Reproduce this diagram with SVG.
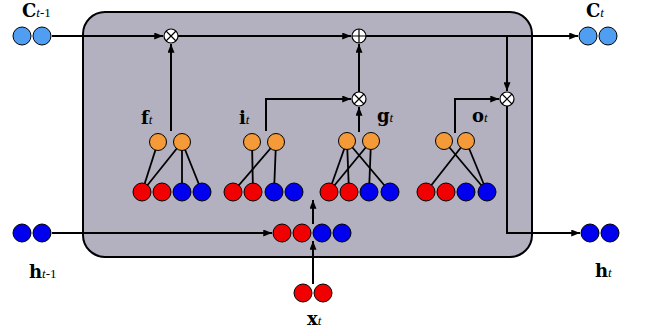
<svg xmlns="http://www.w3.org/2000/svg" width="645" height="335" viewBox="0 0 645 335">
<defs>
<marker id="ah" viewBox="0 0 10 8" refX="10" refY="4" markerWidth="9" markerHeight="7" markerUnits="userSpaceOnUse" orient="auto"><path d="M0,0 L10,4 L0,8 z" fill="#000"/></marker>
</defs>
<style>
.cn{fill:none;stroke:#000;stroke-width:2}
.ar{marker-end:url(#ah)}
.n{stroke:#000;stroke-width:1}
.red{fill:#f00000}
.blu{fill:#0000ee}
.cyan{fill:#4f9ef2}
.org{fill:#f59a38}
.op{fill:#fff;stroke:#000;stroke-width:1.2}
.opx{stroke:#000;stroke-width:1.2}
.m{font-family:"DejaVu Serif",serif;font-weight:bold;font-size:18px;fill:#000}
.s{font-family:"Liberation Serif",serif;font-style:italic;font-size:13px;fill:#000}
.u{font-family:"Liberation Serif",serif;font-size:13px;fill:#000}
</style>
<rect x="83" y="12" width="449" height="245" rx="22" fill="#b3b1c0" stroke="#000" stroke-width="2"/>
<g id="connectors">
<line class="cn ar" x1="52" y1="36" x2="163" y2="36"/>
<line class="cn ar" x1="178" y1="36" x2="351" y2="36"/>
<line class="cn ar" x1="366" y1="36" x2="578" y2="36"/>
<polyline class="cn ar" points="507,36 507,91"/>
<polyline class="cn ar" points="507,106 507,233 580,233"/>
<line class="cn ar" x1="52" y1="233" x2="272" y2="233"/>
<line class="cn ar" x1="313" y1="284" x2="313" y2="241"/>
<line class="cn ar" x1="313" y1="224" x2="313" y2="200"/>
<line class="cn ar" x1="171" y1="131" x2="171" y2="44"/>
<polyline class="cn ar" points="266,131 266,99 351,99"/>
<line class="cn ar" x1="359" y1="132" x2="359" y2="107"/>
<line class="cn ar" x1="359" y1="92" x2="359" y2="44"/>
<polyline class="cn ar" points="455,133 455,99 499,99"/>
<g stroke="#000" stroke-width="1.8">
<line x1="158" y1="142" x2="142" y2="192"/>
<line x1="182" y1="142" x2="142" y2="192"/>
<line x1="182" y1="142" x2="182" y2="192"/>
<line x1="182" y1="142" x2="202" y2="192"/>
<line x1="252" y1="142" x2="253" y2="192"/>
<line x1="276" y1="142" x2="233" y2="192"/>
<line x1="276" y1="142" x2="274" y2="192"/>
<line x1="347" y1="141" x2="329" y2="192"/>
<line x1="347" y1="141" x2="349" y2="192"/>
<line x1="347" y1="141" x2="390" y2="192"/>
<line x1="371" y1="141" x2="329" y2="192"/>
<line x1="371" y1="141" x2="369" y2="192"/>
<line x1="444" y1="141" x2="487" y2="192"/>
<line x1="466" y1="141" x2="426" y2="192"/>
<line x1="466" y1="141" x2="487" y2="192"/>
</g>
</g>
<g id="c_prev"><circle class="n cyan" cx="22" cy="36" r="9"/><circle class="n cyan" cx="42" cy="36" r="9"/></g>
<g id="c_next"><circle class="n cyan" cx="588" cy="36" r="9"/><circle class="n cyan" cx="608" cy="36" r="9"/></g>
<g id="h_prev"><circle class="n blu" cx="22" cy="233" r="9"/><circle class="n blu" cx="42" cy="233" r="9"/></g>
<g id="h_next"><circle class="n blu" cx="590" cy="233" r="9"/><circle class="n blu" cx="610" cy="233" r="9"/></g>
<g id="x_in"><circle class="n red" cx="303" cy="293" r="9"/><circle class="n red" cx="323" cy="293" r="9"/></g>
<g id="concat"><circle class="n red" cx="282" cy="233" r="9"/><circle class="n red" cx="302" cy="233" r="9"/><circle class="n blu" cx="322" cy="233" r="9"/><circle class="n blu" cx="342" cy="233" r="9"/></g>
<g id="gate_f"><circle class="n red" cx="142" cy="192" r="9"/><circle class="n red" cx="162" cy="192" r="9"/><circle class="n blu" cx="182" cy="192" r="9"/><circle class="n blu" cx="202" cy="192" r="9"/><circle class="n org" cx="158" cy="142" r="8.5"/><circle class="n org" cx="182" cy="142" r="8.5"/></g>
<g id="gate_i"><circle class="n red" cx="233" cy="192" r="9"/><circle class="n red" cx="253" cy="192" r="9"/><circle class="n blu" cx="274" cy="192" r="9"/><circle class="n blu" cx="294" cy="192" r="9"/><circle class="n org" cx="252" cy="142" r="8.5"/><circle class="n org" cx="276" cy="142" r="8.5"/></g>
<g id="gate_g"><circle class="n red" cx="329" cy="192" r="9"/><circle class="n red" cx="349" cy="192" r="9"/><circle class="n blu" cx="369" cy="192" r="9"/><circle class="n blu" cx="390" cy="192" r="9"/><circle class="n org" cx="347" cy="141" r="8.5"/><circle class="n org" cx="371" cy="141" r="8.5"/></g>
<g id="gate_o"><circle class="n red" cx="426" cy="192" r="9"/><circle class="n red" cx="446" cy="192" r="9"/><circle class="n blu" cx="466" cy="192" r="9"/><circle class="n blu" cx="487" cy="192" r="9"/><circle class="n org" cx="444" cy="141" r="8.5"/><circle class="n org" cx="466" cy="141" r="8.5"/></g>
<g id="mul_f"><circle class="op" cx="171" cy="36" r="7"/><path class="opx" d="M166,31 L176,41 M176,31 L166,41"/></g>
<g id="add_c"><circle class="op" cx="359" cy="36" r="7"/><path class="opx" d="M352,36 L366,36 M359,29 L359,43"/></g>
<g id="mul_i"><circle class="op" cx="359" cy="99" r="7"/><path class="opx" d="M354,94 L364,104 M364,94 L354,104"/></g>
<g id="mul_o"><circle class="op" cx="507" cy="99" r="7"/><path class="opx" d="M502,94 L512,104 M512,94 L502,104"/></g>
<g id="labels">
<text x="22" y="17"><tspan class="m" font-size="16">C</tspan><tspan class="s">t</tspan><tspan class="u">-1</tspan></text>
<text x="586" y="17"><tspan class="m" font-size="16">C</tspan><tspan class="s">t</tspan></text>
<text x="29" y="278"><tspan class="m" font-size="20">h</tspan><tspan class="s">t</tspan><tspan class="u">-1</tspan></text>
<text x="595" y="277"><tspan class="m" font-size="20">h</tspan><tspan class="s">t</tspan></text>
<text x="307" y="325"><tspan class="m" font-size="19">x</tspan><tspan class="s">t</tspan></text>
<text x="141" y="124"><tspan class="m">f</tspan><tspan class="s">t</tspan></text>
<text x="239" y="124"><tspan class="m">i</tspan><tspan class="s">t</tspan></text>
<text x="377" y="122"><tspan class="m">g</tspan><tspan class="s">t</tspan></text>
<text x="472" y="122"><tspan class="m">o</tspan><tspan class="s">t</tspan></text>
</g>
</svg>
